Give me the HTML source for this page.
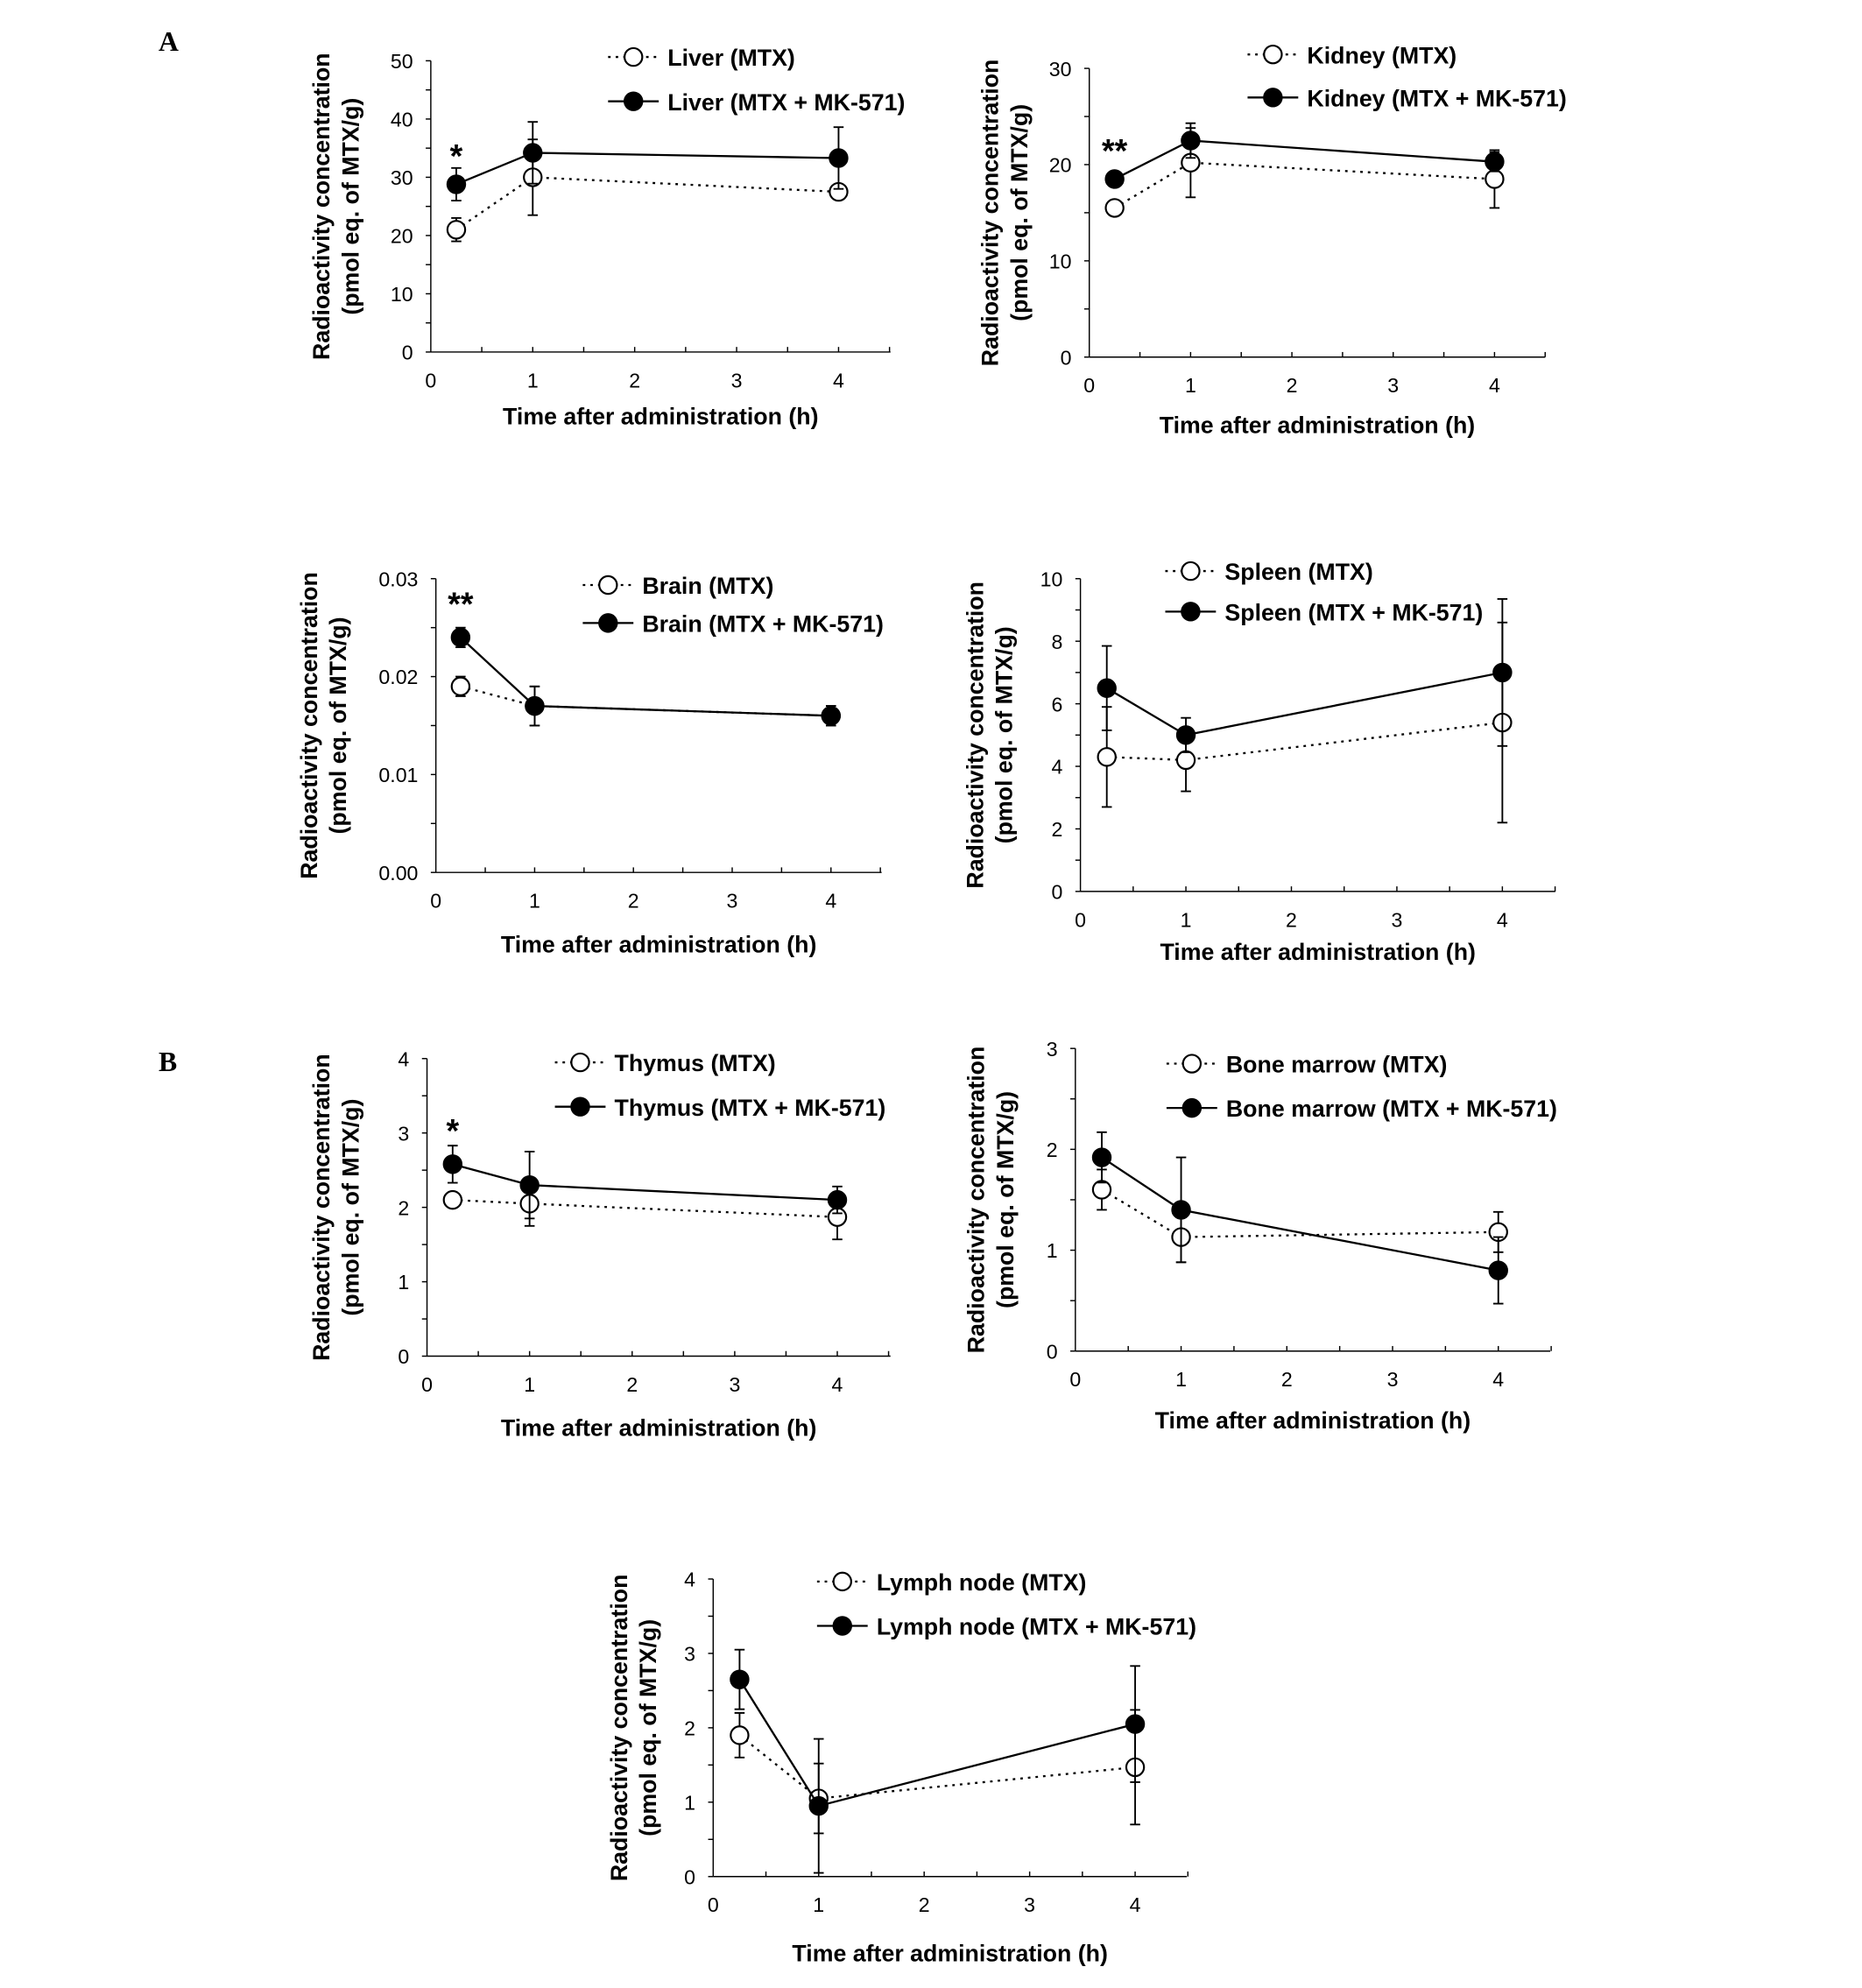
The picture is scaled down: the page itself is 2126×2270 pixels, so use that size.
<!DOCTYPE html>
<html><head><meta charset="utf-8"><title>Radioactivity concentration over time</title>
<style>
html,body{margin:0;padding:0;background:#fff}
svg{display:block}
text{font-family:"Liberation Sans",Arial,sans-serif;fill:#000}
.tick{font-size:16px}
.ttl{font-size:18.5px;font-weight:bold}
.leg{font-size:18.5px;font-weight:bold}
.pl{font-family:"Liberation Serif",serif;font-size:22px;font-weight:bold}
</style></head>
<body>
<svg id="fig" width="2126" height="2270" viewBox="0 0 1470 1570" xmlns="http://www.w3.org/2000/svg">
<text class="pl" x="125" y="40">A</text>
<text class="pl" x="125" y="846">B</text>
</svg>
<script>
const times = [0.25, 1, 4];
// Liver
const liverMtx = [21, 30, 27.5];
const liverMtxErr = [2, 6.5, 0.5];
const liverMk = [28.8, 34.2, 33.3];
const liverMkErr = [2.8, 5.3, 5.3];
// Kidney
const kidneyMtx = [15.5, 20.2, 18.5];
const kidneyMtxErr = [0.3, 3.6, 3];
const kidneyMk = [18.5, 22.5, 20.3];
const kidneyMkErr = [0.7, 1.8, 1];
// Brain
const brainMtx = [0.019, 0.017, 0.016];
const brainMtxErr = [0.001, 0.002, 0.001];
const brainMk = [0.024, 0.017, 0.016];
const brainMkErr = [0.001, 0.002, 0.001];
// Spleen
const spleenMtx = [4.3, 4.2, 5.4];
const spleenMtxErr = [1.6, 1.0, 3.2];
const spleenMk = [6.5, 5.0, 7.0];
const spleenMkErr = [1.35, 0.55, 2.35];
// Thymus
const thymusMtx = [2.1, 2.05, 1.87];
const thymusMtxErr = [0.05, 0.3, 0.3];
const thymusMk = [2.58, 2.3, 2.1];
const thymusMkErr = [0.25, 0.45, 0.18];
// Bone marrow
const boneMtx = [1.6, 1.13, 1.18];
const boneMtxErr = [0.2, 0.25, 0.2];
const boneMk = [1.92, 1.4, 0.8];
const boneMkErr = [0.25, 0.52, 0.33];
// Lymph node
const lymphMtx = [1.9, 1.05, 1.47];
const lymphMtxErr = [0.3, 0.47, 0.77];
const lymphMk = [2.65, 0.95, 2.05];
const lymphMkErr = [0.4, 0.9, 0.78];

const xTicks = [0, 1, 2, 3, 4];

const NS = "http://www.w3.org/2000/svg";
const svg = document.getElementById('fig');
function mk(tag, attrs, parent){
  const e = document.createElementNS(NS, tag);
  for (const k in attrs) e.setAttribute(k, attrs[k]);
  (parent||svg).appendChild(e);
  return e;
}

function panel(p){
  const g = mk('g', {});
  
  
  const xs = v => p.x0 + v * p.ux;
  const ys = v => p.yb - (v / p.ymax) * (p.yb - p.yt);
  const ya = mk('line', {x1:p.x0, y1:p.yt, x2:p.x0, y2:p.yb, stroke:'#000','stroke-width':1}, g);
  
  
  const xa = mk('line', {x1:p.x0, y1:p.yb, x2:p.xend, y2:p.yb, stroke:'#000','stroke-width':1}, g);
  
  
  const nMinor = Math.round(p.ymax / p.minor);
  for (let i = 0; i <= nMinor; i++){
    const v = i * p.minor, y = ys(v);
    mk('line', {x1:p.x0-4, y1:y, x2:p.x0, y2:y, stroke:'#000','stroke-width':1}, g);
  }
  p.yLabels.forEach(lbl => {
    const t = mk('text', {x:p.x0-14, y:ys(parseFloat(lbl))+6, 'text-anchor':'end', class:'tick'}, g);
    t.textContent = lbl;
    
    
  });
  for (let v = 0.5; v <= 4.5; v += 0.5){
    mk('line', {x1:xs(v), y1:p.yb, x2:xs(v), y2:p.yb-4, stroke:'#000','stroke-width':1}, g);
  }
  xTicks.forEach(v => {
    const t = mk('text', {x:xs(v), y:p.yb+28, 'text-anchor':'middle', class:'tick'}, g);
    t.textContent = v;
    
    
  });
  const xt = mk('text', {x:(p.x0+p.xend)/2, y:p.xTitleY, 'text-anchor':'middle', class:'ttl'}, g);
  xt.textContent = 'Time after administration (h)';
  
  
  const cy = (p.yt + p.yb)/2 + p.yTitleDy;
  const yt1 = mk('text', {x:0, y:0, 'text-anchor':'middle', class:'ttl', transform:`translate(${p.yTitleX},${cy}) rotate(-90)`}, g);
  yt1.textContent = 'Radioactivity concentration';
  
  
  const yt2 = mk('text', {x:0, y:0, 'text-anchor':'middle', class:'ttl', transform:`translate(${p.yTitleX+23},${cy}) rotate(-90)`}, g);
  yt2.textContent = '(pmol eq. of MTX/g)';
  
  

  function series(vals, errs, filled){
    const pts = times.map((t,i)=> xs(t)+','+ys(vals[i])).join(' ');
    const ln = mk('polyline', {points:pts, fill:'none', stroke:'#000','stroke-width':1.6, 'stroke-dasharray': filled?'none':'2,4'}, g);
    
    
    times.forEach((t,i)=>{
      const x = xs(t), y1 = ys(vals[i]+errs[i]), y2 = ys(vals[i]-errs[i]);
      const eb = mk('path', {d:`M${x},${y1}V${y2}M${x-4},${y1}H${x+4}M${x-4},${y2}H${x+4}`, stroke:'#000','stroke-width':1.3, fill:'none'}, g);
      
      
    });
    times.forEach((t,i)=>{
      const c = mk('circle', {cx:xs(t), cy:ys(vals[i]), r:7, fill: filled?'#000':'#fff', stroke:'#000','stroke-width':1.5}, g);
      
      
    });
  }
  series(p.mtx, p.mtxErr, false);
  series(p.mk, p.mkErr, true);

  [[p.legY1, false, p.label + ' (MTX)'], [p.legY2, true, p.label + ' (MTX + MK-571)']].forEach(([y, f, txt])=>{
    const lg = mk('g', {}, g);
    
    
    mk('line', {x1:p.legX-20, y1:y, x2:p.legX+20, y2:y, stroke:'#000','stroke-width':1.6,'stroke-dasharray': f?'none':'2,4'}, lg);
    mk('circle', {cx:p.legX, cy:y, r:7, fill:f?'#000':'#fff', stroke:'#000','stroke-width':1.5}, lg);
    const t = mk('text', {x:p.legX+27, y:y+7, class:'leg'}, lg);
    t.textContent = txt;
  });
  if (p.star){
    const s = mk('text', {x:xs(0.25), y:p.starY, 'text-anchor':'middle', style:'font-size:26px;font-weight:bold'}, g);
    s.textContent = p.star;
    
    
  }
}

panel({name:'liver', label:'Liver', x0:340, ux:80.5, xend:703, yt:48, yb:278, ymax:50, minor:5, yLabels:['0','10','20','30','40','50'],
  mtx:liverMtx, mtxErr:liverMtxErr, mk:liverMk, mkErr:liverMkErr, xTitleY:335, yTitleX:260, yTitleDy:0,
  legX:500, legY1:45, legY2:80, star:'*', starY:132});
panel({name:'kidney', label:'Kidney', x0:860, ux:80, xend:1220, yt:54, yb:282, ymax:30, minor:5, yLabels:['0','10','20','30'],
  mtx:kidneyMtx, mtxErr:kidneyMtxErr, mk:kidneyMk, mkErr:kidneyMkErr, xTitleY:342, yTitleX:788, yTitleDy:0,
  legX:1005, legY1:43, legY2:77, star:'**', starY:128});
panel({name:'brain', label:'Brain', x0:344, ux:78, xend:696, yt:457, yb:689, ymax:0.03, minor:0.005, yLabels:['0.00','0.01','0.02','0.03'],
  mtx:brainMtx, mtxErr:brainMtxErr, mk:brainMk, mkErr:brainMkErr, xTitleY:752, yTitleX:250, yTitleDy:0,
  legX:480, legY1:462, legY2:492, star:'**', starY:486});
panel({name:'spleen', label:'Spleen', x0:853, ux:83.3, xend:1228, yt:457, yb:704, ymax:10, minor:1, yLabels:['0','2','4','6','8','10'],
  mtx:spleenMtx, mtxErr:spleenMtxErr, mk:spleenMk, mkErr:spleenMkErr, xTitleY:758, yTitleX:776, yTitleDy:0,
  legX:940, legY1:451, legY2:483});
panel({name:'thymus', label:'Thymus', x0:337, ux:81, xend:703, yt:836, yb:1071, ymax:4, minor:0.5, yLabels:['0','1','2','3','4'],
  mtx:thymusMtx, mtxErr:thymusMtxErr, mk:thymusMk, mkErr:thymusMkErr, xTitleY:1134, yTitleX:260, yTitleDy:0,
  legX:458, legY1:839, legY2:874, star:'*', starY:902});
panel({name:'bone-marrow', label:'Bone marrow', x0:849, ux:83.5, xend:1224, yt:828, yb:1067, ymax:3, minor:0.5, yLabels:['0','1','2','3'],
  mtx:boneMtx, mtxErr:boneMtxErr, mk:boneMk, mkErr:boneMkErr, xTitleY:1128, yTitleX:777, yTitleDy:0,
  legX:941, legY1:840, legY2:875});
panel({name:'lymph-node', label:'Lymph node', x0:563, ux:83.3, xend:937, yt:1247, yb:1482, ymax:4, minor:0.5, yLabels:['0','1','2','3','4'],
  mtx:lymphMtx, mtxErr:lymphMtxErr, mk:lymphMk, mkErr:lymphMkErr, xTitleY:1549, yTitleX:495, yTitleDy:0,
  legX:665, legY1:1249, legY2:1284});
</script>
</body></html>
